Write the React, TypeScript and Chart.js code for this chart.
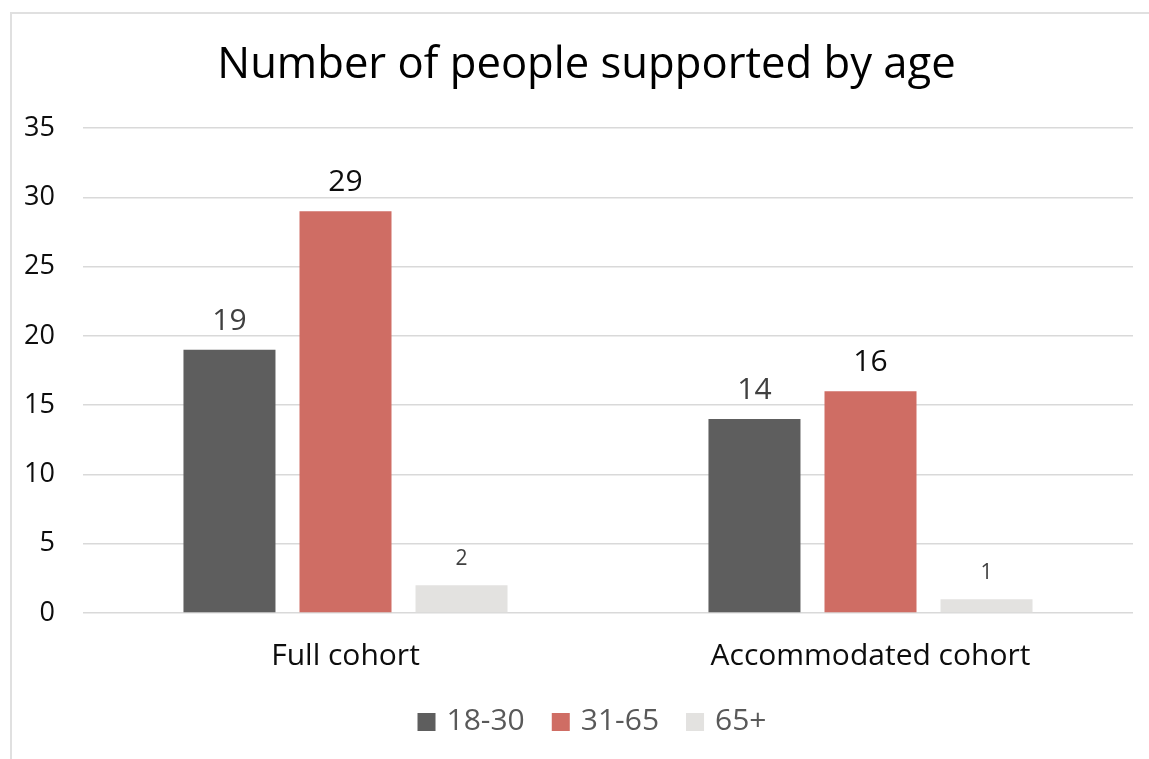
import React, { useEffect, useRef } from "react";
import { Chart, registerables } from "chart.js";

Chart.register(...registerables);

const chartTitle = "Number of people supported by age";
const categories = ["Full cohort", "Accommodated cohort"];
const seriesNames = ["18-30", "31-65", "65+"];
const age18to30 = [19, 14];
const age31to65 = [29, 16];
const age65plus = [2, 1];
const seriesColors = ["#5e5e5e", "#cf6d64", "#e3e2e0"];
const yMin = 0;
const yMax = 35;
const yStep = 5;

const FONT = "'Open Sans', 'Noto Sans', sans-serif";

// Value labels above each bar, styled per series
const labelStyles = [
  { size: 30, color: "#404040" },
  { size: 30, color: "#0d0d0d" },
  { size: 21, color: "#404040" },
];

const barValueLabels = {
  id: "barValueLabels",
  afterDatasetsDraw(chart: any) {
    const ctx = chart.ctx;
    ctx.save();
    chart.data.datasets.forEach((ds: any, i: number) => {
      const meta = chart.getDatasetMeta(i);
      const st = labelStyles[i];
      ctx.font = `400 ${st.size}px ${FONT}`;
      ctx.fillStyle = st.color;
      ctx.textAlign = "center";
      ctx.textBaseline = "alphabetic";
      meta.data.forEach((bar: any, j: number) => {
        ctx.fillText(String(ds.data[j]), bar.x, bar.y - 20);
      });
    });
    ctx.restore();
  },
};

// Title and legend drawn in the reserved top/bottom bands of the canvas
const titleAndLegend = {
  id: "titleAndLegend",
  afterDraw(chart: any) {
    const ctx = chart.ctx;
    ctx.save();
    // title
    ctx.font = `400 43.6px ${FONT}`;
    ctx.fillStyle = "#000000";
    ctx.textAlign = "center";
    ctx.textBaseline = "middle";
    ctx.fillText(chartTitle, 586.5, 66);

    // legend
    const box = 18;
    const gap = 11;
    const spacing = 27;
    ctx.font = `400 30px ${FONT}`;
    const items = chart.data.datasets.map((ds: any) => ({
      text: ds.label,
      color: ds.backgroundColor,
      w: box + gap + ctx.measureText(ds.label).width,
    }));
    const total =
      items.reduce((s: number, it: any) => s + it.w, 0) + spacing * (items.length - 1);
    let x = 592 - total / 2;
    const cy = 722;
    ctx.textAlign = "left";
    ctx.textBaseline = "middle";
    items.forEach((it: any) => {
      ctx.fillStyle = it.color;
      ctx.fillRect(x, cy - box / 2, box, box);
      ctx.fillStyle = "#595959";
      ctx.fillText(it.text, x + box + gap, cy - 1);
      x += it.w + spacing;
    });
    ctx.restore();
  },
};

export default function App() {
  const canvasRef = useRef<HTMLCanvasElement | null>(null);

  useEffect(() => {
    if (!canvasRef.current) return;
    const values = [age18to30, age31to65, age65plus];
    const chart = new Chart(canvasRef.current, {
      type: "bar",
      data: {
        labels: categories,
        datasets: seriesNames.map((name, i) => ({
          label: name,
          data: values[i],
          backgroundColor: seriesColors[i],
          borderWidth: 0,
          categoryPercentage: 0.663,
          barPercentage: 0.793,
        })),
      },
      options: {
        responsive: false,
        animation: false,
        layout: { padding: { left: 0, right: 16, top: 128, bottom: 81 } },
        plugins: {
          tooltip: { enabled: false },
          title: { display: false },
          legend: { display: false },
        },
        scales: {
          x: {
            grid: { display: false, drawTicks: false },
            border: { display: false },
            ticks: {
              color: "#0d0d0d",
              padding: 25,
              font: { family: FONT, size: 30 },
            },
            afterFit(scale: any) {
              scale.height = 65;
            },
          },
          y: {
            min: yMin,
            max: yMax,
            grid: { color: "#d9d9d9", lineWidth: 1.5, drawTicks: false },
            border: { display: false },
            ticks: {
              stepSize: yStep,
              color: "#0d0d0d",
              padding: 28,
              font: { family: FONT, size: 27 },
            },
            afterFit(scale: any) {
              scale.width = 83;
            },
          },
        },
      },
      plugins: [barValueLabels, titleAndLegend],
    });
    return () => chart.destroy();
  }, []);

  return (
    <div
      style={{
        position: "fixed",
        left: 0,
        top: 0,
        width: 1149,
        height: 759,
        background: "#ffffff",
        overflow: "hidden",
      }}
    >
      <canvas
        ref={canvasRef}
        width={1149}
        height={759}
        style={{ position: "absolute", left: 0, top: 0 }}
      />
      <div
        style={{
          position: "absolute",
          left: 10,
          top: 12,
          width: 1200,
          height: 800,
          borderLeft: "2px solid #e0e0e0",
          borderTop: "2px solid #e0e0e0",
          pointerEvents: "none",
        }}
      />
    </div>
  );
}
